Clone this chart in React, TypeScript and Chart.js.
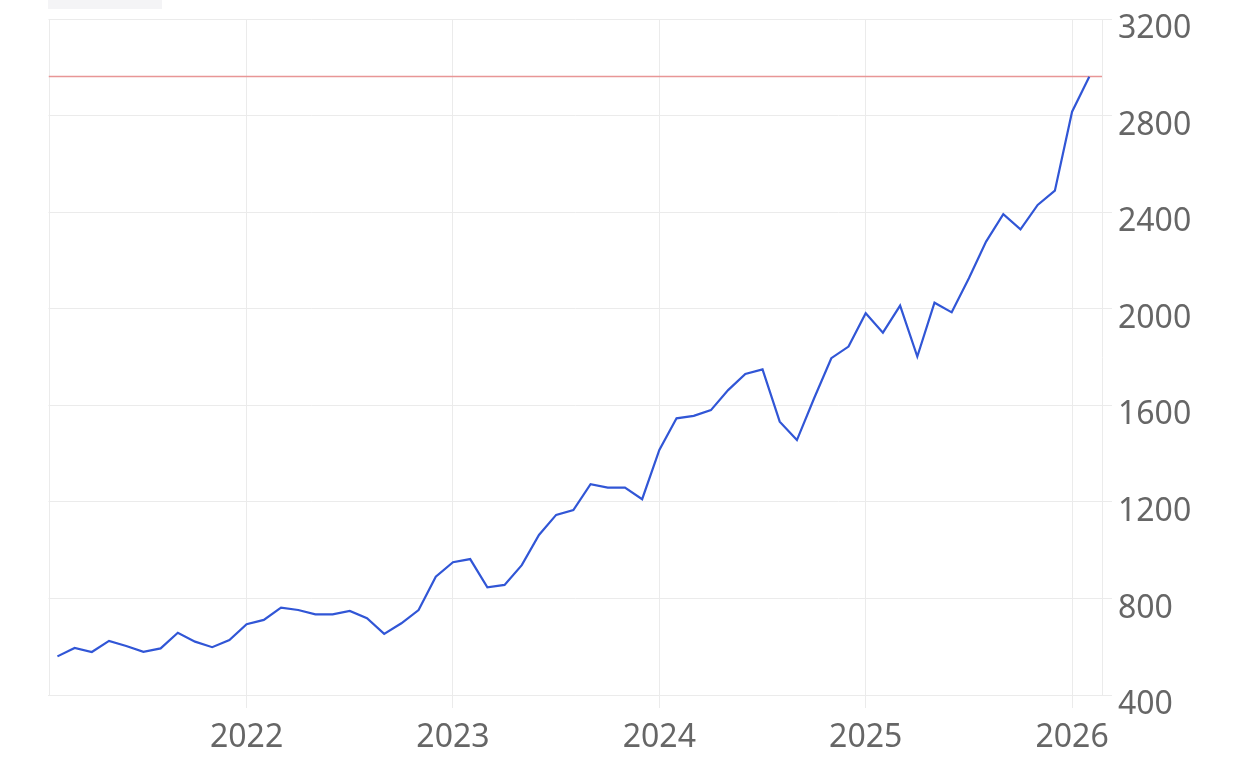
import React, { useEffect, useRef } from "react";
import { Chart, registerables } from "chart.js";

Chart.register(...registerables);

// Monthly series, first point = February 2021, last point = February 2026
const START_YEAR = 2021;
const START_MONTH = 2;
const VALUES: number[] = [
  560, 595, 578, 624, 603, 579, 593, 658, 621, 598, 628,
  693, 711, 762, 752, 734, 734, 748, 718, 653, 697, 752, 890,
  950, 963, 846, 856, 938, 1063, 1146, 1166, 1273, 1259, 1259, 1211,
  1415, 1546, 1556, 1580, 1663, 1730, 1749, 1532, 1456, 1629, 1795, 1843,
  1981, 1901, 2013, 1802, 2025, 1985, 2126, 2278, 2392, 2329, 2430, 2489,
  2816, 2961,
];
const REF_LEVEL = 2962;
const YEAR_TICKS: number[] = [2022, 2023, 2024, 2025, 2026];
const Y_TICKS: number[] = [400, 800, 1200, 1600, 2000, 2400, 2800, 3200];
const X_MIN = 2021.04;
const X_MAX = 2026.145;

const GRID = "#ebebeb";
const FONT = { family: "'Noto Sans', sans-serif", size: 32 };

const leftBorder = {
  id: "leftBorder",
  beforeDatasetsDraw(chart: any) {
    const { ctx, chartArea } = chart;
    ctx.save();
    ctx.strokeStyle = GRID;
    ctx.lineWidth = 1;
    ctx.beginPath();
    ctx.moveTo(Math.round(chartArea.left) + 0.5, chartArea.top);
    ctx.lineTo(Math.round(chartArea.left) + 0.5, chartArea.bottom);
    ctx.stroke();
    ctx.restore();
  },
};

export default function App() {
  const ref = useRef<HTMLCanvasElement | null>(null);

  useEffect(() => {
    if (!ref.current) return;
    const points = VALUES.map((v, i) => {
      const m = START_MONTH - 1 + i;
      return { x: START_YEAR + m / 12, y: v };
    });
    const chart = new Chart(ref.current, {
      type: "line",
      data: {
        datasets: [
          {
            data: points,
            borderColor: "#3156d6",
            borderWidth: 2.2,
            pointRadius: 0,
            tension: 0,
            order: 1,
          },
          {
            data: [
              { x: X_MIN, y: REF_LEVEL },
              { x: X_MAX, y: REF_LEVEL },
            ],
            borderColor: "#e89696",
            borderWidth: 1.5,
            pointRadius: 0,
            order: 2,
          },
        ],
      },
      options: {
        animation: false,
        responsive: false,
        plugins: { legend: { display: false }, tooltip: { enabled: false } },
        layout: { padding: { left: 48.5, top: 19, right: 0, bottom: 0 } },
        scales: {
          x: {
            type: "linear",
            min: X_MIN,
            max: X_MAX,
            afterBuildTicks: (s: any) => {
              s.ticks = YEAR_TICKS.map((v) => ({ value: v }));
            },
            afterFit: (s: any) => {
              s.height = 85;
              s.paddingLeft = 0;
              s.paddingRight = 0;
            },
            grid: { color: GRID, tickLength: 13 },
            border: { display: true, color: GRID },
            ticks: {
              font: FONT,
              color: "#666",
              padding: 11,
              autoSkip: false,
              maxRotation: 0,
              callback: (v: any) => String(v),
            },
          },
          y: {
            position: "right",
            min: 400,
            max: 3200,
            afterBuildTicks: (s: any) => {
              s.ticks = Y_TICKS.map((v) => ({ value: v }));
            },
            afterFit: (s: any) => {
              s.width = 140;
              s.paddingTop = 0;
              s.paddingBottom = 0;
            },
            grid: { color: GRID, tickLength: 10 },
            border: { display: true, color: GRID },
            ticks: {
              font: FONT,
              color: "#666",
              padding: 6,
              labelOffset: 10,
              callback: (v: any) => String(v),
            },
          },
        },
      },
      plugins: [leftBorder],
    });
    return () => chart.destroy();
  }, []);

  return (
    <div style={{ position: "fixed", left: 0, top: 0, width: 1242, height: 780, background: "#fff" }}>
      <div style={{ position: "absolute", left: 48, top: 0, width: 114, height: 9, background: "#f4f4f6" }} />
      <canvas ref={ref} width={1242} height={780} style={{ display: "block", width: 1242, height: 780 }} />
    </div>
  );
}
